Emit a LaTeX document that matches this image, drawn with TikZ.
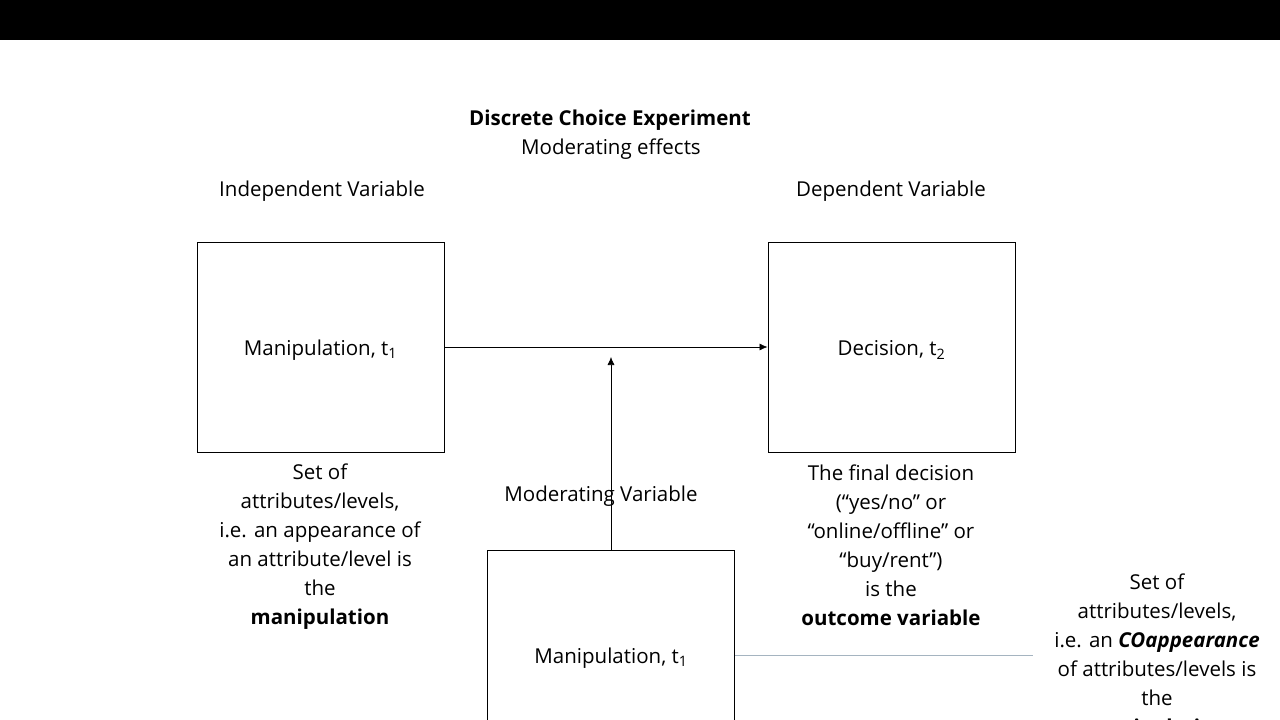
\documentclass[tikz,border=0pt]{standalone}
\usepackage{fontspec}
\setmainfont{Open Sans}
\usetikzlibrary{arrows.meta}
\definecolor{linegray}{RGB}{165,180,192}
\tikzset{
	varbox/.style={draw, line width=1pt, minimum width=247pt, minimum height=210pt, inner sep=0pt},
	note/.style={align=center, font=\fontsize{20.5}{29}\selectfont},
	arr/.style={-{Latex[length=8pt,width=7pt]}, line width=0.6pt}
}
\begin{document}
\begin{tikzpicture}[x=1pt,y=-1pt]
		\useasboundingbox (0,0) rectangle (1280,720);
		\clip (0,0) rectangle (1280,720);
		\fill[black] (0,0) rectangle (1280,40);

		\node[note] (title) at (610,120) {\textbf{Discrete Choice Experiment}};
		\node[note] (sub) at (611,149) {Moderating effects};
		\node[note] (indep) at (322,191) {Independent Variable};
		\node[note] (dep) at (891,191) {Dependent Variable};

		\node[varbox] (manip) at (320.5,347) {};
		\node[varbox] (decis) at (891.5,347) {};
		\node[varbox] (moder) at (611,655) {};
		\node[note] (maniptxt) at (320.5,350) {Manipulation, t\textsubscript{1}};
		\node[note] (decistxt) at (891.5,350) {Decision, t\textsubscript{2}};
		\node[note] (modtxt) at (611,658) {Manipulation, t\textsubscript{1}};

		\node[note] (manipnote) at (320,547) {Set of\\attributes/levels,\\i.e. an appearance of\\an attribute/level is\\the\\\textbf{manipulation}};
		\node[note] (decisnote) at (891,545.5) {The final decision\\(“yes/no” or\\“online/offline” or\\“buy/rent”)\\is the\\\textbf{outcome variable}};
		\node[note] (modlabel) at (601,496) {Moderating Variable};
		\node[note] (modnote) at (1157,657) {Set of\\attributes/levels,\\i.e. an \textbf{\textit{COappearance}}\\of attributes/levels is\\the\\\textbf{manipulation}};

		\coordinate (meet) at (611,357);
		\coordinate (noteend) at (1033,655);

		\draw[arr] (manip.east) to (decis.west);
		\draw[arr] (moder.north) to (meet);
		\draw[-, linegray, line width=0.8pt] (moder.east |- noteend) to (noteend);
    \end{tikzpicture}
\end{document}
